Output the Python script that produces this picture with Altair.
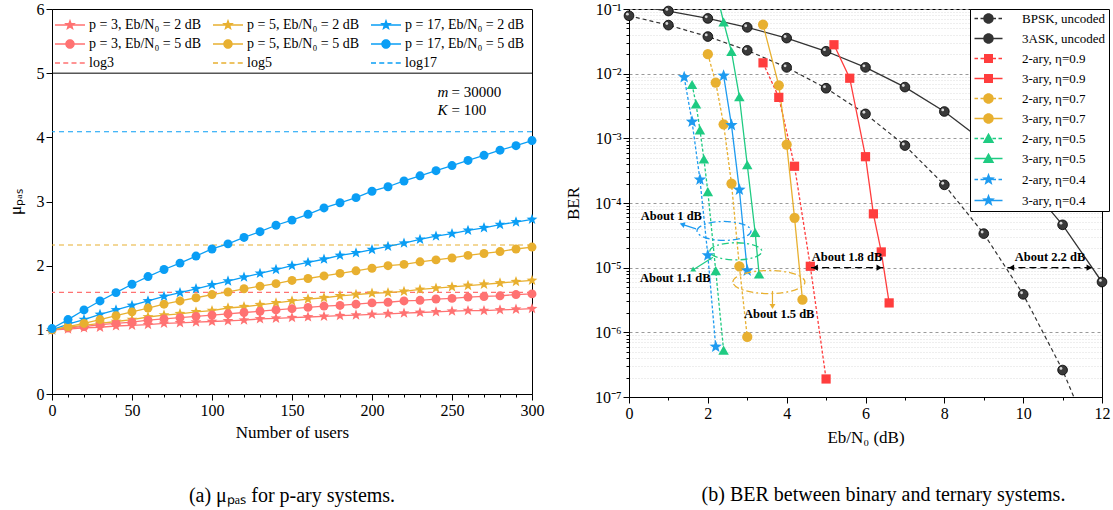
import math
import altair as alt
import pandas as pd

FONT = "Liberation Serif"

# ======================= (a) data =======================
users = list(range(0, 301, 10))
mu_p3_2dB = [1.00, 1.01, 1.03, 1.04, 1.06, 1.07, 1.08, 1.10, 1.11, 1.12, 1.13, 1.14, 1.15, 1.17, 1.18, 1.19,
             1.20, 1.21, 1.22, 1.23, 1.24, 1.25, 1.26, 1.27, 1.28, 1.29, 1.30, 1.30, 1.31, 1.32, 1.33]
mu_p5_2dB = [1.00, 1.04, 1.07, 1.10, 1.13, 1.16, 1.20, 1.23, 1.25, 1.28, 1.30, 1.34, 1.36, 1.39, 1.42, 1.45,
             1.48, 1.50, 1.53, 1.55, 1.57, 1.58, 1.60, 1.63, 1.65, 1.67, 1.69, 1.71, 1.73, 1.75, 1.77]
mu_p17_2dB = [1.00, 1.09, 1.16, 1.24, 1.31, 1.38, 1.45, 1.52, 1.58, 1.64, 1.70, 1.76, 1.82, 1.88, 1.94, 2.00,
              2.05, 2.10, 2.16, 2.20, 2.25, 2.30, 2.35, 2.41, 2.46, 2.50, 2.55, 2.59, 2.64, 2.68, 2.72]
mu_p3_5dB = [1.00, 1.03, 1.05, 1.08, 1.10, 1.12, 1.15, 1.17, 1.19, 1.21, 1.23, 1.25, 1.27, 1.29, 1.31, 1.33,
             1.35, 1.37, 1.38, 1.40, 1.42, 1.43, 1.45, 1.46, 1.48, 1.49, 1.51, 1.52, 1.53, 1.55, 1.56]
mu_p5_5dB = [1.00, 1.05, 1.10, 1.16, 1.22, 1.28, 1.34, 1.40, 1.45, 1.50, 1.55, 1.59, 1.64, 1.68, 1.72, 1.77,
             1.80, 1.84, 1.88, 1.92, 1.96, 2.00, 2.02, 2.06, 2.09, 2.12, 2.16, 2.19, 2.22, 2.26, 2.29]
mu_p17_5dB = [1.02, 1.16, 1.31, 1.45, 1.58, 1.71, 1.83, 1.94, 2.04, 2.15, 2.26, 2.34, 2.44, 2.53, 2.63, 2.71,
              2.80, 2.90, 2.98, 3.06, 3.16, 3.23, 3.32, 3.40, 3.48, 3.56, 3.64, 3.72, 3.80, 3.87, 3.95]

curve_names = ["p = 3, Eb/N₀ = 2 dB", "p = 5, Eb/N₀ = 2 dB", "p = 17, Eb/N₀ = 2 dB",
               "p = 3, Eb/N₀ = 5 dB", "p = 5, Eb/N₀ = 5 dB", "p = 17, Eb/N₀ = 5 dB"]
log_names = ["log3", "log5", "log17"]
log_values = [1.585, 2.322, 4.087]
param_labels = ["m", "K"]
param_values = ["= 30000", "= 100"]
param_users = [241, 241]
param_mu = [4.70, 4.43]
legend_border_mu = [5]

RED_A, YEL, BLU_A = "#FF7272", "#E8B030", "#0A9EF5"
curve_colors = [RED_A, YEL, BLU_A, RED_A, YEL, BLU_A]
log_colors = [RED_A, YEL, BLU_A]

# legend order (filled column by column: 3 rows)
legend_left_names = [curve_names[0], curve_names[3], log_names[0],
                     curve_names[1], curve_names[4], log_names[1],
                     curve_names[2], curve_names[5], log_names[2]]
legend_left_colors = [RED_A] * 3 + [YEL] * 3 + [BLU_A] * 3

# ======================= (b) data =======================
bpsk_x = [0, 1, 2, 3, 4, 5, 6, 7, 8, 9, 10, 11, 12]
bpsk_ber = [0.0786, 0.0563, 0.0375, 0.0229, 0.0125, 0.00595, 0.00239, 7.73e-4, 1.91e-4, 3.36e-5, 3.87e-6,
            2.61e-7, 9.0e-9]
ask_x = [0, 1, 2, 3, 4, 5, 6, 7, 8, 9, 10, 11, 12]
ask_ber = [0.116, 0.093, 0.0714, 0.052, 0.0355, 0.0222, 0.0125, 0.0062, 0.0026, 8.9e-4, 2.4e-4, 4.6e-5, 6.0e-6]
b09_x = [3.4, 3.8, 4.2, 4.6, 5.0]
b09_ber = [0.0147, 0.0043, 3.7e-4, 1.05e-5, 1.9e-7]
t09_x = [5.2, 5.6, 6.0, 6.2, 6.4, 6.6]
t09_ber = [0.028, 0.0085, 5.2e-4, 6.8e-5, 1.75e-5, 2.85e-6]
b07_x = [2.0, 2.2, 2.4, 2.6, 2.8, 3.0]
b07_ber = [0.020, 0.0073, 0.00165, 2.0e-4, 1.05e-5, 8.5e-7]
t07_x = [3.4, 3.8, 4.0, 4.2, 4.4]
t07_ber = [0.0575, 0.0066, 8.0e-4, 5.9e-5, 3.2e-6]
b05_x = [1.6, 1.7, 1.8, 1.9, 2.0, 2.2, 2.4]
b05_ber = [0.0068, 0.0034, 0.00135, 4.8e-4, 1.5e-4, 9.0e-6, 5.3e-7]
t05_x = [2.2, 2.4, 2.6, 2.8, 3.0, 3.2, 3.3]
t05_ber = [0.2, 0.063, 0.022, 0.0044, 3.9e-4, 3.5e-5, 8.0e-6]
b04_x = [1.4, 1.6, 1.8, 2.0, 2.2]
b04_ber = [0.0088, 0.0018, 2.3e-4, 1.55e-5, 6.0e-7]
t04_x = [2.4, 2.6, 2.8, 3.0]
t04_ber = [0.0093, 0.0016, 1.6e-4, 9.0e-6]

right_names = ["BPSK, uncoded", "3ASK, uncoded", "2-ary, η=0.9", "3-ary, η=0.9", "2-ary, η=0.7",
               "3-ary, η=0.7", "2-ary, η=0.5", "3-ary, η=0.5", "2-ary, η=0.4", "3-ary, η=0.4"]
DARK, RED_B, GRN, BLU_B = "#333333", "#FF3D3D", "#1FCB82", "#1E9BF0"
right_colors = [DARK, DARK, RED_B, RED_B, YEL, YEL, GRN, GRN, BLU_B, BLU_B]

# annotations (b)
gap_arrow_from = [4.62, 9.60]
gap_arrow_to = [6.45, 11.78]
gap_arrow_ber = [1e-5, 1e-5]
center_text = ["About 1.8 dB", "About 2.2 dB", "About 1.5 dB"]
center_text_x = [5.53, 10.68, 3.81]
center_text_ber = [1.45e-5, 1.45e-5, 1.9e-6]
left_text = ["About 1 dB", "About 1.1 dB"]
left_text_x = [0.30, 0.28]
left_text_ber = [6.2e-5, 6.9e-6]
ellipse_x = [2.41, 2.71, 3.55]
ellipse_ber = [3.7e-5, 1.79e-5, 6.0e-6]
ellipse_w = [54, 52, 72]
ellipse_k = [0.35, 0.33, 0.32]
ellipse_col = [BLU_B, GRN, YEL]
small_arrow_from_x = [1.70, 2.13, 3.64]
small_arrow_from_ber = [10 ** -4.40, 10 ** -4.84, 10 ** -5.36]
small_arrow_to_x = [1.35, 1.61, 3.64]
small_arrow_to_ber = [10 ** -4.33, 10 ** -5.04, 10 ** -5.60]
small_arrow_angle = [288, 238, 180]
small_arrow_col = [BLU_B, GRN, YEL]


# ======================= symbol paths =======================
def _f(v):
    return f"{v:.3f}"


def _rect(x0, x1, h=0.15):
    return f"M{_f(x0)},{_f(-h)}H{_f(x1)}V{_f(h)}H{_f(x0)}Z"


def _solid(L):
    return _rect(-L, L)


def _dashed(L, dash, gap):
    parts, x = [], -L
    while x < L - 1e-9:
        parts.append(_rect(x, min(x + dash, L)))
        x += dash + gap
    return "".join(parts)


def _circle(r):
    k = 0.5523 * r
    return (f"M{_f(-r)},0C{_f(-r)},{_f(-k)} {_f(-k)},{_f(-r)} 0,{_f(-r)}"
            f"C{_f(k)},{_f(-r)} {_f(r)},{_f(-k)} {_f(r)},0"
            f"C{_f(r)},{_f(k)} {_f(k)},{_f(r)} 0,{_f(r)}"
            f"C{_f(-k)},{_f(r)} {_f(-r)},{_f(k)} {_f(-r)},0Z")


def _square(a):
    return f"M{_f(-a)},{_f(-a)}H{_f(a)}V{_f(a)}H{_f(-a)}Z"


def _triangle(r):
    return f"M0,{_f(-r)}L{_f(r)},{_f(0.8 * r)}L{_f(-r)},{_f(0.8 * r)}Z"


def _star(R):
    r = 0.42 * R
    pts = []
    for i in range(10):
        ang = math.radians(-90 + 36 * i)
        rad = R if i % 2 == 0 else r
        pts.append((rad * math.cos(ang), rad * math.sin(ang)))
    return "M" + "L".join(f"{_f(px)},{_f(py)}" for px, py in pts) + "Z"


def _ellipse(k):
    c = 0.5523
    return (f"M-1,0C-1,{_f(-k * c)} {_f(-c)},{_f(-k)} 0,{_f(-k)}C{_f(c)},{_f(-k)} 1,{_f(-k * c)} 1,0"
            f"C1,{_f(k * c)} {_f(c)},{_f(k)} 0,{_f(k)}C{_f(-c)},{_f(k)} -1,{_f(k * c)} -1,0Z")


STAR = _star(1.0)
_ls = _solid(3.0) + _star(1.25)
_lc = _solid(3.0) + _circle(0.95)
_ld = _dashed(3.0, 1.0, 0.65)
legend_left_paths = [_ls, _lc, _ld] * 3
LR = 2.8
dsh = _dashed(LR, 0.7, 0.5)
sol = _solid(LR)
right_paths = [dsh + _circle(1.05), sol + _circle(1.05),
               dsh + _square(0.9), sol + _square(0.9),
               dsh + _circle(1.05), sol + _circle(1.05),
               dsh + _triangle(1.15), sol + _triangle(1.15),
               dsh + _star(1.35), sol + _star(1.35)]

# ======================= (a) chart =======================
rows = []
for name, col, vals in zip(curve_names, curve_colors,
                           [mu_p3_2dB, mu_p5_2dB, mu_p17_2dB, mu_p3_5dB, mu_p5_5dB, mu_p17_5dB]):
    for u, v in zip(users, vals):
        rows.append({"series": name, "col": col, "users": u, "mu": v, "snr": "2" if "2 dB" in name else "5"})
left_df = pd.DataFrame(rows)
log_df = pd.DataFrame({"series": log_names, "col": log_colors, "mu": log_values})
COL = alt.Color("col:N", scale=None)

x_l = alt.X("users:Q", title="Number of users",
            scale=alt.Scale(domain=[0, 300], nice=False),
            axis=alt.Axis(values=users, labelExpr="datum.value % 50 === 0 ? datum.label : ''",
                          tickSize=6, labelFlush=False,
                          tickDash={"condition": {"test": "datum.value % 50 === 0", "value": [6, 0]},
                                    "value": [3, 20]},
                          labelOverlap=False, grid=False, titlePadding=6))
y_l = alt.Y("mu:Q", title="μₚₐₛ", scale=alt.Scale(domain=[0, 6], nice=False),
            axis=alt.Axis(values=[0, 1, 2, 3, 4, 5, 6], grid=False, tickSize=6, titlePadding=12,
                          labelFlush=False))

base_l = alt.Chart(left_df)
log_rules = alt.Chart(log_df).mark_rule(strokeDash=[5, 4], strokeWidth=1.2).encode(y=y_l, color=COL)
border_rule = alt.Chart(pd.DataFrame({"mu": legend_border_mu})).mark_rule(
    color="black", strokeWidth=1).encode(y=y_l)
l_lines = base_l.mark_line(strokeWidth=1.3).encode(x=x_l, y=y_l, color=COL, detail="series:N")
l_stars = base_l.transform_filter("datum.snr == '2'").mark_point(
    shape=STAR, filled=True, size=130, opacity=1, strokeWidth=0).encode(x=x_l, y=y_l, color=COL)
l_circ = base_l.transform_filter("datum.snr == '5'").mark_point(
    shape="circle", filled=True, size=80, opacity=1, strokeWidth=0).encode(x=x_l, y=y_l, color=COL)

param_df = pd.DataFrame({"v": param_labels, "t": param_values, "users": param_users, "mu": param_mu})
p_var = alt.Chart(param_df).mark_text(font=FONT, fontSize=15, fontStyle="italic", align="left",
                                      color="black").encode(x=x_l, y=y_l, text="v:N")
p_val = alt.Chart(param_df).mark_text(font=FONT, fontSize=15, align="left", dx=14,
                                      color="black").encode(x=x_l, y=y_l, text="t:N")

l_leg = alt.Legend(title=None, orient="none", legendX=1, legendY=9, columns=3, gridAlign="all",
                   symbolSize=100, symbolOffset=10, labelOffset=12, symbolStrokeWidth=0,
                   labelFont=FONT, labelFontSize=14, labelColor="black", labelLimit=400,
                   rowPadding=5, columnPadding=2, padding=0)
l_legend_layer = alt.Chart(pd.DataFrame({"series": legend_left_names, "users": [0] * 9,
                                         "mu": [0] * 9})).mark_point(
    filled=True, opacity=1, size=0).encode(
    x=x_l, y=y_l,
    color=alt.Color("series:N", scale=alt.Scale(domain=legend_left_names, range=legend_left_colors),
                    legend=l_leg),
    shape=alt.Shape("series:N", scale=alt.Scale(domain=legend_left_names, range=legend_left_paths),
                    legend=l_leg))

left_chart = alt.layer(log_rules, border_rule, l_lines, l_stars, l_circ, p_var, p_val, l_legend_layer).properties(
    width=480, height=385,
    title=alt.Title("(a) μₚₐₛ for p-ary systems.", orient="bottom", offset=46, fontSize=20,
                    font=FONT, fontWeight="normal", anchor="middle", color="black"))

# ======================= (b) chart =======================
rrows = []
series_data = [(bpsk_x, bpsk_ber), (ask_x, ask_ber), (b09_x, b09_ber), (t09_x, t09_ber), (b07_x, b07_ber),
               (t07_x, t07_ber), (b05_x, b05_ber), (t05_x, t05_ber), (b04_x, b04_ber), (t04_x, t04_ber)]
for i, (name, col, (xs, bs)) in enumerate(zip(right_names, right_colors, series_data)):
    kind = "bpsk" if i == 0 else ("dash" if i % 2 == 0 else "solid")
    for xv, bv in zip(xs, bs):
        rrows.append({"series": name, "col": col, "kind": kind, "ebn0": xv, "ber": bv})
right_df = pd.DataFrame(rrows)

DEC = "abs(log(datum.value)/LN10 - round(log(datum.value)/LN10)) < 0.001"
ticks_log = []
for k in range(-7, -1):
    for m in range(1, 10):
        ticks_log.append(m * 10.0 ** k)
ticks_log.append(0.1)
SUP = ("(round(log(datum.value)/LN10) == -1 ? '10⁻¹' : round(log(datum.value)/LN10) == -2 ? '10⁻²' : "
       "round(log(datum.value)/LN10) == -3 ? '10⁻³' : round(log(datum.value)/LN10) == -4 ? '10⁻⁴' : "
       "round(log(datum.value)/LN10) == -5 ? '10⁻⁵' : round(log(datum.value)/LN10) == -6 ? '10⁻⁶' : '10⁻⁷')")

x_r = alt.X("ebn0:Q", title="Eb/N₀ (dB)", scale=alt.Scale(domain=[0, 12], nice=False),
            axis=alt.Axis(values=list(range(13)), labelExpr="datum.value % 2 === 0 ? datum.label : ''",
                          tickSize=6, labelFlush=False,
                          tickDash={"condition": {"test": "datum.value % 2 === 0", "value": [6, 0]},
                                    "value": [3, 20]},
                          labelOverlap=False, grid=False, titlePadding=8))
y_r = alt.Y("ber:Q", title="BER", scale=alt.Scale(type="log", domain=[1e-7, 1e-1], nice=False),
            axis=alt.Axis(values=ticks_log,
                          labelExpr=f"({DEC}) ? {SUP} : ''",
                          tickSize=6, labelFlush=False,
                          tickDash={"condition": {"test": DEC, "value": [6, 0]}, "value": [3, 20]},
                          gridColor={"condition": {"test": DEC, "value": "#9a9a9a"}, "value": "#dddddd"},
                          gridDash={"condition": {"test": DEC, "value": [3, 3]}, "value": [1, 2]},
                          grid=True, labelOverlap=False, titlePadding=12))

base_r = alt.Chart(right_df)
RANGE_F = "datum.ber >= 1e-7 && datum.ber <= 0.1"
r_lines_solid = base_r.transform_filter("datum.kind == 'solid'").mark_line(strokeWidth=1.3, clip=True).encode(
    x=x_r, y=y_r, color=COL, detail="series:N")
r_lines_dash = base_r.transform_filter("datum.kind == 'dash'").mark_line(
    strokeWidth=1.3, clip=True, strokeDash=[3, 2]).encode(x=x_r, y=y_r, color=COL, detail="series:N")
r_lines_bpsk = base_r.transform_filter("datum.kind == 'bpsk'").mark_line(
    strokeWidth=1.2, clip=True, strokeDash=[4, 3]).encode(x=x_r, y=y_r, color=COL, detail="series:N")


def rpts(names, shape, size):
    return base_r.transform_filter(alt.FieldOneOfPredicate(field="series", oneOf=names)).transform_filter(
        RANGE_F).mark_point(shape=shape, filled=True, size=size, opacity=1, strokeWidth=0).encode(
        x=x_r, y=y_r, color=COL)


sph = base_r.transform_filter(alt.FieldOneOfPredicate(field="series", oneOf=right_names[:2])).transform_filter(
    RANGE_F)
r_sph = sph.mark_point(shape="circle", filled=True, size=95, opacity=1, color="#3a3a3a",
                       stroke="black", strokeWidth=0.8).encode(x=x_r, y=y_r)
r_sph_hi = sph.mark_point(shape="circle", filled=True, size=8, opacity=1, color="#d8d8d8",
                          xOffset=-1.6, yOffset=-1.6).encode(x=x_r, y=y_r)
r_sq = rpts(right_names[2:4], "square", 85)
r_ci = rpts(right_names[4:6], "circle", 105)
r_tr = rpts(right_names[6:8], "triangle-up", 110)
r_st = rpts(right_names[8:10], STAR, 170)

ann_layers = []
gap_df = pd.DataFrame({"ebn0": gap_arrow_from, "ebn0_2": gap_arrow_to, "ber": gap_arrow_ber})
ann_layers.append(alt.Chart(gap_df).mark_rule(color="black", strokeWidth=1.2, strokeDash=[7, 4]).encode(
    x=x_r, x2="ebn0_2:Q", y=y_r))
ann_layers.append(alt.Chart(pd.DataFrame({"ebn0": gap_arrow_from, "ber": gap_arrow_ber})).mark_point(
    shape="triangle-left", filled=True, size=40, color="black", opacity=1, xOffset=4).encode(x=x_r, y=y_r))
ann_layers.append(alt.Chart(pd.DataFrame({"ebn0": gap_arrow_to, "ber": gap_arrow_ber})).mark_point(
    shape="triangle-right", filled=True, size=40, color="black", opacity=1, xOffset=-4).encode(x=x_r, y=y_r))
ann_layers.append(alt.Chart(pd.DataFrame({"ebn0": center_text_x, "ber": center_text_ber, "t": center_text}))
                  .mark_text(font=FONT, fontWeight="bold", fontSize=12.5, color="black", align="center")
                  .encode(x=x_r, y=y_r, text="t:N"))
ann_layers.append(alt.Chart(pd.DataFrame({"ebn0": left_text_x, "ber": left_text_ber, "t": left_text}))
                  .mark_text(font=FONT, fontWeight="bold", fontSize=12.5, color="black", align="left")
                  .encode(x=x_r, y=y_r, text="t:N"))
for i in range(3):
    ann_layers.append(alt.Chart(pd.DataFrame({"ebn0": [ellipse_x[i]], "ber": [ellipse_ber[i]]})).mark_point(
        shape=_ellipse(ellipse_k[i]), size=ellipse_w[i] ** 2, filled=False, color=ellipse_col[i],
        strokeWidth=1.3, strokeDash=[7, 3, 2, 3], opacity=1).encode(x=x_r, y=y_r))
    ann_layers.append(alt.Chart(pd.DataFrame({
        "ebn0": [small_arrow_from_x[i]], "ber": [small_arrow_from_ber[i]],
        "ebn0_2": [small_arrow_to_x[i]], "ber_2": [small_arrow_to_ber[i]]})).mark_rule(
        color=small_arrow_col[i], strokeWidth=1.2).encode(x=x_r, y=y_r, x2="ebn0_2:Q", y2="ber_2:Q"))
    ann_layers.append(alt.Chart(pd.DataFrame({"ebn0": [small_arrow_to_x[i]], "ber": [small_arrow_to_ber[i]]}))
                      .mark_point(shape="triangle-up", angle=small_arrow_angle[i], filled=True, size=35,
                                  color=small_arrow_col[i], opacity=1).encode(x=x_r, y=y_r))

r_leg = alt.Legend(title=None, orient="none", legendX=341, legendY=0, columns=1,
                   symbolSize=100, symbolOffset=9, labelOffset=27, symbolStrokeWidth=0,
                   labelFont=FONT, labelFontSize=13, labelColor="black", labelLimit=400,
                   rowPadding=6, padding=3, fillColor="white", strokeColor="black")
r_legend_layer = alt.Chart(pd.DataFrame({"series": right_names, "ebn0": [1.0] * 10, "ber": [1e-3] * 10})).mark_point(
    filled=True, opacity=1, size=0).encode(
    x=x_r, y=y_r,
    color=alt.Color("series:N", scale=alt.Scale(domain=right_names, range=right_colors), legend=r_leg),
    shape=alt.Shape("series:N", scale=alt.Scale(domain=right_names, range=right_paths), legend=r_leg))

right_chart = alt.layer(r_lines_bpsk, r_lines_dash, r_lines_solid, r_sph, r_sph_hi, r_sq, r_ci, r_tr, r_st,
                        *ann_layers, r_legend_layer).properties(
    width=473, height=388,
    title=alt.Title("(b) BER between binary and ternary systems.", orient="bottom", offset=40, fontSize=20,
                    font=FONT, fontWeight="normal", anchor="middle", color="black", dx=18))

chart = alt.hconcat(left_chart, right_chart, spacing=18).resolve_scale(
    color="independent", shape="independent").resolve_legend(
    color="independent", shape="independent").properties(
    padding={"left": 5, "top": 0, "right": 0, "bottom": 0}
).configure_view(stroke="black", strokeWidth=1).configure_axis(
    domainColor="black", tickColor="black", labelColor="black", titleColor="black",
    labelFont=FONT, titleFont=FONT, labelFontSize=16, titleFontSize=17, titleFontWeight="normal",
    labelPadding=2
)

chart.save("out.html", embed_options={"renderer": "svg", "actions": False})
